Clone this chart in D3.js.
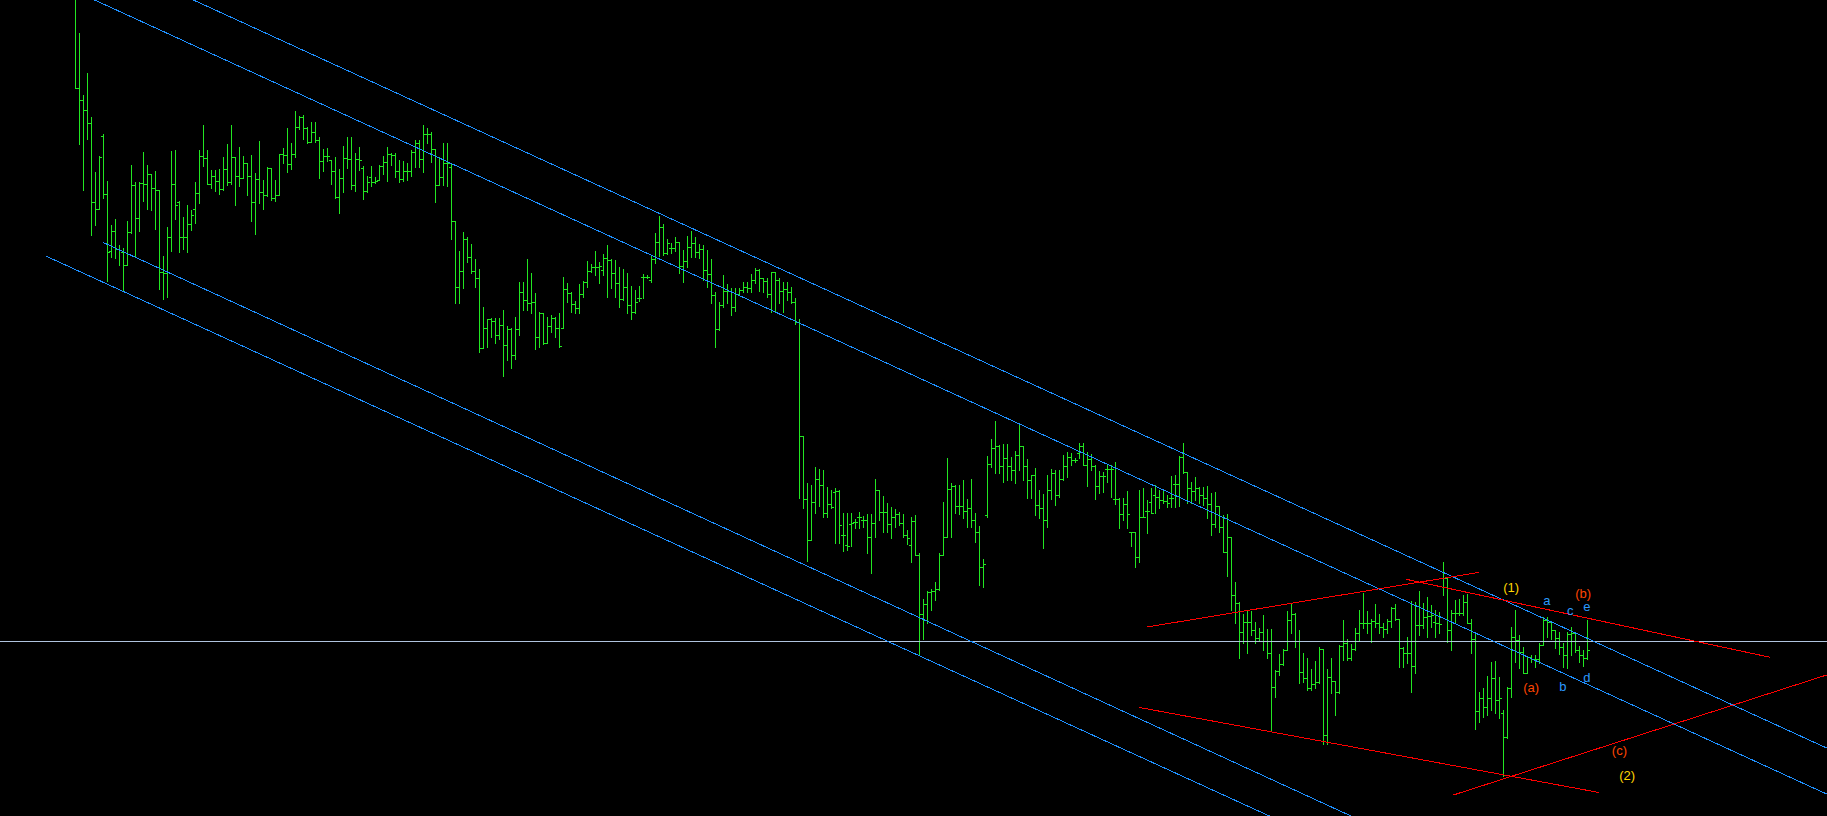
<!DOCTYPE html>
<html><head><meta charset="utf-8">
<script src="https://cdn.jsdelivr.net/npm/d3@7/dist/d3.min.js"></script>
<style>html,body{margin:0;padding:0;background:#000;overflow:hidden}</style>
</head><body>
<svg id="chart" width="1827" height="816"></svg>
<script>
// Price values are expressed in chart points measured downward from the top of the window
const opens = [-2,88,100,110,123,202,209,136,194,251,231,249,252,265,232,185,218,183,184,174,188,190,272,273,237,184,202,237,237,224,209,193,156,158,184,176,181,189,169,182,157,176,178,163,176,202,179,192,195,168,198,195,154,155,164,154,127,117,128,142,132,140,161,156,160,171,197,178,158,159,185,159,
168,191,177,182,180,166,162,154,155,171,179,171,171,152,143,159,134,134,149,185,177,163,167,221,287,271,239,257,271,278,348,328,319,321,335,325,345,329,355,329,292,300,303,302,337,313,343,326,318,328,328,289,293,304,308,294,282,271,267,267,270,258,260,273,283,299,287,305,312,
298,277,277,280,259,242,227,253,248,248,242,266,261,247,243,252,249,270,274,295,329,305,291,291,307,294,290,287,288,280,270,278,281,294,272,280,291,289,292,302,322,
436,499,540,502,479,485,513,504,492,491,535,545,524,522,517,520,520,537,523,490,512,512,524,517,514,523,535,545,521,555,614,604,592,591,589,555,537,489,486,506,506,511,508,520,532,567,515,464,448,446,466,458,466,470,455,446,466,480,475,505,508,520,490,473,495,479,466,457,460,
453,446,465,459,466,486,476,469,469,499,499,514,504,532,532,557,517,511,502,495,497,500,501,498,484,484,457,472,488,491,488,495,498,504,524,506,527,552,537,595,603,632,622,622,630,638,632,641,653,687,671,664,650,620,614,641,672,678,688,684,682,649,735,677,681,692,646,643,658,649,633,623,623,623,621,623,627,629,621,608,619,648,653,653,666,625,625,617,616,622,623,578,578,630,613,613,613,602,623,639,711,698,707,698,678,700,713,737,688,637,640,652,673,657,659,659,645,620,622,630,638,647,655,634,633,650,655,658];
const highs = [-10,33,95,73,117,172,156,134,181,225,219,245,248,221,165,182,182,152,165,174,171,190,256,227,151,150,201,217,205,210,182,150,125,150,170,170,169,157,144,125,157,147,156,163,155,173,141,180,167,168,180,154,148,128,143,111,116,115,127,122,122,137,149,148,160,157,169,146,137,137,153,147,
166,176,166,177,165,156,147,153,153,160,161,163,150,140,140,125,128,132,149,157,143,143,163,221,251,232,237,244,259,269,307,319,318,318,318,310,326,328,317,282,282,259,273,293,312,313,317,315,317,313,277,283,292,301,284,281,261,264,251,262,254,245,259,260,267,269,273,286,290,
286,274,275,255,233,216,224,239,243,237,242,250,236,231,237,244,245,250,259,292,302,275,284,288,288,288,282,282,274,268,269,278,278,272,272,278,282,282,287,298,319,
436,483,485,467,469,470,487,490,488,490,513,513,513,519,512,516,514,514,479,490,496,503,507,509,512,514,530,517,515,553,599,591,589,582,553,502,458,483,485,485,480,499,479,513,526,559,456,439,421,445,444,444,457,451,424,446,459,475,468,490,494,475,469,470,470,455,452,453,458,
443,443,452,454,465,471,472,465,465,462,498,498,491,532,532,490,488,500,488,485,490,490,495,476,475,456,443,472,482,477,487,487,486,493,492,506,515,514,537,582,602,614,611,611,622,628,615,629,629,670,654,649,611,604,613,630,653,658,669,661,647,649,669,658,681,645,620,639,644,628,610,593,611,619,604,614,623,619,607,604,619,647,637,601,602,591,603,597,605,610,612,562,577,610,600,599,595,594,619,633,692,688,676,662,661,677,710,687,627,610,635,647,657,655,655,643,617,617,621,630,632,643,632,627,633,646,650,620];
const lows = [88,144,190,139,235,225,209,198,281,257,258,265,290,265,233,256,231,201,209,210,229,289,299,297,251,219,252,249,252,230,223,203,166,184,188,191,194,190,185,184,205,186,178,195,221,234,203,209,196,200,201,195,163,172,169,157,129,139,143,142,142,178,171,161,184,198,213,192,168,189,191,170,
199,192,186,183,180,174,181,165,177,182,181,180,176,167,167,172,143,162,202,185,185,186,239,303,303,288,262,273,287,352,348,347,337,343,339,376,360,368,359,335,310,310,313,349,347,344,343,332,337,347,328,302,312,313,313,297,287,272,275,283,275,297,288,297,307,300,313,319,313,
301,298,278,282,263,256,255,254,253,251,273,282,267,257,257,258,280,287,303,347,330,307,303,315,311,295,292,292,292,283,291,292,297,312,312,303,312,300,303,324,498,
508,561,540,513,506,517,517,508,543,543,551,550,546,528,528,527,553,573,537,520,532,532,538,527,525,537,544,562,555,655,639,623,610,600,590,555,537,537,513,514,518,527,527,542,585,587,517,467,473,473,482,480,480,483,470,480,498,498,515,518,548,527,499,505,497,480,477,465,462,
458,465,486,470,499,493,492,482,497,504,528,520,528,546,567,562,517,533,513,513,508,503,507,507,507,506,473,503,503,500,503,505,518,535,527,532,552,576,610,623,658,643,653,635,643,640,650,658,731,697,675,665,650,633,647,683,682,690,690,688,683,744,744,693,715,693,660,660,660,650,640,628,633,642,627,633,637,633,627,620,667,667,663,692,673,635,628,637,627,637,633,595,642,650,623,615,615,623,653,729,722,717,715,710,713,718,776,738,697,662,668,673,673,662,667,663,645,637,639,648,654,667,668,655,652,662,666,659];
const closes = [88,100,110,123,202,209,157,194,252,231,249,250,265,232,185,218,183,184,174,188,190,272,273,237,184,205,237,237,224,215,193,156,158,184,176,181,189,169,182,157,176,178,163,176,202,179,192,195,168,198,195,154,155,164,154,127,117,128,142,132,140,161,156,156,171,197,178,158,159,185,159,160,
191,182,182,181,166,162,154,155,171,179,171,171,152,143,159,134,134,149,185,177,163,163,221,287,271,239,257,271,278,348,328,319,321,335,325,345,329,355,329,292,300,303,302,337,313,343,326,318,328,346,289,293,304,308,294,282,271,267,267,266,258,260,273,283,299,287,305,312,302,
298,277,277,259,242,227,253,243,248,242,266,261,247,243,252,249,270,274,295,329,305,291,291,307,294,290,287,288,280,270,278,281,294,272,280,291,289,292,302,322,436,
499,540,502,479,485,513,504,507,491,525,535,546,523,522,517,520,537,523,490,512,512,524,517,514,523,535,538,521,555,614,604,592,591,589,555,537,489,486,506,506,511,508,520,532,567,564,464,448,446,466,458,466,470,455,446,466,480,475,505,508,520,490,473,495,479,466,457,460,460,
446,465,459,466,486,476,476,469,469,499,514,504,514,532,557,517,517,511,513,497,500,501,503,498,484,457,472,488,491,488,495,498,504,524,506,527,552,537,595,603,632,622,622,630,638,632,641,653,687,671,664,650,620,614,641,672,678,688,684,682,649,735,677,681,692,646,643,658,649,633,623,623,623,621,623,627,629,621,608,619,648,653,653,666,625,625,617,616,615,623,624,578,630,613,613,613,602,623,639,711,698,707,698,678,700,698,737,688,637,640,652,673,657,659,659,645,620,622,630,638,647,655,634,633,650,655,658,650];

// Trend lines: [barIndexStart, valueStart, barIndexEnd, valueEnd]
const blueLines = [[29.6,0,437.9,748],[4.9,0,437.9,794],[6.95,242.3,319.0,816],[-7.2,256.2,298.6,816]];
const redLines = [[268.05,627,351.1,572.3],[332.8,579.3,423.8,657.3],[266,707.4,381,792.5],[344.6,795,437.9,675]];
const horizontalLevel = [641];
// Wave labels
const labelTexts = ["(1)","a","(b)","c","e","(a)","b","d","(c)","(2)"];
const labelIdx = [359.05,367.95,377.05,373.8,377.95,364.05,371.95,377.95,386.1,388.05];
const labelVal = [589,602,595,612,608,689,688,679,752,777];
const labelGroup = ["major","minor","inter","minor","minor","inter","minor","minor","inter","major"];

const W = 1827, H = 816;
const svg = d3.select("#chart");
svg.append("rect").attr("width",W).attr("height",H).attr("fill","#000");

const x = d3.scaleLinear().domain([0, 378]).range([75, 1587]);
const y = d3.scaleLinear().domain([0, 816]).range([0, 816]);
const colours = {major:"#FFD700", inter:"#FF4500", minor:"#2C9AFF"};

const bars = d3.range(opens.length).map(i => ({i, o:opens[i], h:highs[i], l:lows[i], c:closes[i]}));
const g = svg.append("g").attr("shape-rendering","crispEdges").attr("stroke","#22E622").attr("stroke-width",1);
const px = d => Math.round(x(d.i)) + 0.5;
g.selectAll("line.hl").data(bars).join("line").attr("class","hl")
  .attr("x1",px).attr("x2",px)
  .attr("y1",d=>Math.round(y(d.h))).attr("y2",d=>Math.round(y(d.l))+1);
g.selectAll("line.op").data(bars).join("line").attr("class","op")
  .attr("x1",d=>px(d)-2.5).attr("x2",d=>px(d)-0.5)
  .attr("y1",d=>Math.round(y(d.o))+0.5).attr("y2",d=>Math.round(y(d.o))+0.5);
g.selectAll("line.cl").data(bars).join("line").attr("class","cl")
  .attr("x1",d=>px(d)+0.5).attr("x2",d=>px(d)+2.5)
  .attr("y1",d=>Math.round(y(d.c))+0.5).attr("y2",d=>Math.round(y(d.c))+0.5);

svg.selectAll("line.h").data(horizontalLevel).join("line").attr("class","h")
  .attr("x1",0).attr("x2",W).attr("y1",d=>Math.round(y(d))+0.5).attr("y2",d=>Math.round(y(d))+0.5)
  .attr("stroke","#B0C4DE").attr("stroke-width",1).attr("shape-rendering","crispEdges");

function drawLines(data, colour, cls){
  svg.selectAll("line."+cls).data(data).join("line").attr("class",cls)
    .attr("x1",d=>x(d[0])).attr("y1",d=>y(d[1])).attr("x2",d=>x(d[2])).attr("y2",d=>y(d[3]))
    .attr("stroke",colour).attr("stroke-width",1).attr("shape-rendering","crispEdges");
}
drawLines(blueLines, "#1E90FF", "blue");
drawLines(redLines, "#FF0000", "red");

svg.selectAll("text.lbl").data(labelTexts).join("text").attr("class","lbl")
  .attr("x",(d,i)=>x(labelIdx[i])).attr("y",(d,i)=>y(labelVal[i]))
  .attr("dy","0.2em").attr("text-anchor","middle")
  .attr("font-family","'Liberation Sans', Arial, sans-serif").attr("font-size",13)
  .attr("fill",(d,i)=>colours[labelGroup[i]])
  .text(d=>d);
</script>
</body></html>
